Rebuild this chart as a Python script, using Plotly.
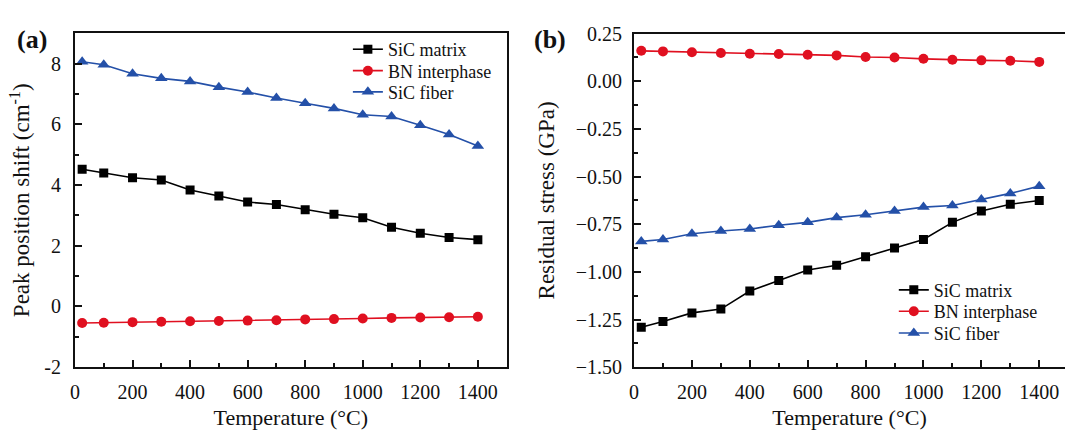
import plotly.graph_objects as go

# Temperatures (°C)
temperature = [25, 100, 200, 300, 400, 500, 600, 700, 800, 900, 1000, 1100, 1200, 1300, 1400]

# (a) Raman peak position shift (cm^-1)
shift_matrix = [4.52, 4.40, 4.24, 4.17, 3.84, 3.64, 3.44, 3.36, 3.19, 3.04, 2.92, 2.61, 2.41, 2.27, 2.20]
shift_bn = [-0.55, -0.54, -0.52, -0.51, -0.49, -0.48, -0.47, -0.46, -0.43, -0.42, -0.40, -0.38, -0.37, -0.36, -0.34]
shift_fiber = [8.07, 7.97, 7.67, 7.52, 7.42, 7.23, 7.07, 6.87, 6.70, 6.53, 6.32, 6.26, 5.97, 5.67, 5.29]

# (b) Residual stress (GPa)
stress_matrix = [-1.29, -1.26, -1.215, -1.195, -1.10, -1.045, -0.99, -0.965, -0.92, -0.875, -0.83, -0.74, -0.68, -0.645, -0.625]
stress_bn = [0.16, 0.157, 0.153, 0.149, 0.145, 0.143, 0.139, 0.136, 0.128, 0.125, 0.118, 0.113, 0.110, 0.108, 0.102]
stress_fiber = [-0.84, -0.83, -0.80, -0.785, -0.775, -0.755, -0.74, -0.715, -0.70, -0.68, -0.66, -0.652, -0.62, -0.588, -0.55]

series_names = ["SiC matrix", "BN interphase", "SiC fiber"]
colors = ["#000000", "#e01020", "#2450a8"]
symbols = ["square", "circle", "triangle-up"]
marker_sizes = [9, 10, 11]

SERIF = "Liberation Serif"
W, H = 1065, 430
INK = "#111"

# Legend rows: one small legend per series so each row sits at its own place
legend_rows_a = [40.6, 63.2, 85.5]
legend_rows_b = [294.2, 316.7, 339.6]
legend_x_a = 344.5
legend_x_b = 893.0

fig = go.Figure()

panel_a = [shift_matrix, shift_bn, shift_fiber]
panel_b = [stress_matrix, stress_bn, stress_fiber]

legend_layout = {}
for i, name in enumerate(series_names):
    key = "legend" if i == 0 else f"legend{i + 1}"
    fig.add_trace(go.Scatter(
        x=temperature, y=panel_a[i], name=name, mode="lines+markers",
        line=dict(color=colors[i], width=1.6),
        marker=dict(symbol=symbols[i], size=marker_sizes[i], color=colors[i]),
        xaxis="x", yaxis="y", legend=key,
    ))
    legend_layout[key] = dict(x=legend_x_a / W, y=1 - legend_rows_a[i] / H,
                              xanchor="left", yanchor="middle",
                              bgcolor="rgba(0,0,0,0)", borderwidth=0,
                              font=dict(family=SERIF, size=18, color=INK))
for i, name in enumerate(series_names):
    key = f"legend{i + 4}"
    fig.add_trace(go.Scatter(
        x=temperature, y=panel_b[i], name=name, mode="lines+markers",
        line=dict(color=colors[i], width=1.6),
        marker=dict(symbol=symbols[i], size=marker_sizes[i], color=colors[i]),
        xaxis="x2", yaxis="y2", legend=key,
    ))
    legend_layout[key] = dict(x=legend_x_b / W, y=1 - legend_rows_b[i] / H,
                              xanchor="left", yanchor="middle",
                              bgcolor="rgba(0,0,0,0)", borderwidth=0,
                              font=dict(family=SERIF, size=18, color=INK))

tick_font = dict(family=SERIF, size=20, color=INK)
title_font = dict(family=SERIF, size=23, color=INK)

common_axis = dict(
    showgrid=False, zeroline=False, showline=True, linecolor=INK, linewidth=2,
    ticks="inside", ticklen=7, tickwidth=1.6, tickcolor=INK,
    tickfont=tick_font, title_font=title_font,
)
minor_common = dict(ticks="inside", ticklen=4, tickwidth=1.6, tickcolor=INK)

x_ticks = list(range(0, 1401, 200))
x_minor = list(range(100, 1401, 200))


def xaxis_cfg(domain, rng, anchor):
    d = dict(common_axis)
    d.update(domain=domain, range=rng, anchor=anchor, tickmode="array",
             tickvals=x_ticks, ticktext=[str(v) for v in x_ticks],
             minor=dict(minor_common, tickmode="array", tickvals=x_minor),
             ticklabelstandoff=6,
             title=dict(text="Temperature (°C)", standoff=10,
                        font=dict(family=SERIF, size=22, color=INK)),
             mirror=True)
    return d


y_ticks_a = [-2, 0, 2, 4, 6, 8]
y_minor_a = [-1, 1, 3, 5, 7]
y_ticks_b = [0.25, 0.0, -0.25, -0.5, -0.75, -1.0, -1.25, -1.5]
y_minor_b = [0.125, -0.125, -0.375, -0.625, -0.875, -1.125, -1.375]

fig.update_layout(
    width=W, height=H,
    margin=dict(l=0, r=0, t=0, b=0),
    paper_bgcolor="white", plot_bgcolor="white",
    font=dict(family=SERIF, color=INK),
    xaxis=xaxis_cfg([70.3 / W, 504.0 / W], [0, 1500], "y"),
    yaxis=dict(common_axis, domain=[1 - 375.2 / H, 1 - 23.7 / H], range=[-2, 9], anchor="x",
               tickmode="array", tickvals=y_ticks_a, ticktext=[str(v) for v in y_ticks_a],
               minor=dict(minor_common, tickmode="array", tickvals=y_minor_a),
               ticklabelstandoff=8,
               title=dict(text="Peak position shift (cm<sup>-1</sup>)", standoff=8), mirror=True),
    xaxis2=xaxis_cfg([632.0 / W, 1.0], [0, 1489], "y2"),
    yaxis2=dict(common_axis, domain=[1 - 375.4 / H, 1 - 23.9 / H], range=[-1.5, 0.25], anchor="x2",
                tickmode="array", tickvals=y_ticks_b,
                ticktext=[f"{v:.2f}".replace("-", "\u2212") for v in y_ticks_b],
                minor=dict(minor_common, tickmode="array", tickvals=y_minor_b),
                ticklabelstandoff=6,
                title=dict(text="Residual stress (GPa)", standoff=15), mirror=False),
    showlegend=True,
    **legend_layout,
)

# Panel labels
for label, cx in (("(a)", 27.5), ("(b)", 547.5)):
    fig.add_annotation(text=f"<b>{label}</b>", x=cx / W, y=1 - 30 / H,
                       xref="paper", yref="paper", showarrow=False,
                       font=dict(family=SERIF, size=26, color=INK),
                       xanchor="center", yanchor="middle")

fig.write_html("out.html")
